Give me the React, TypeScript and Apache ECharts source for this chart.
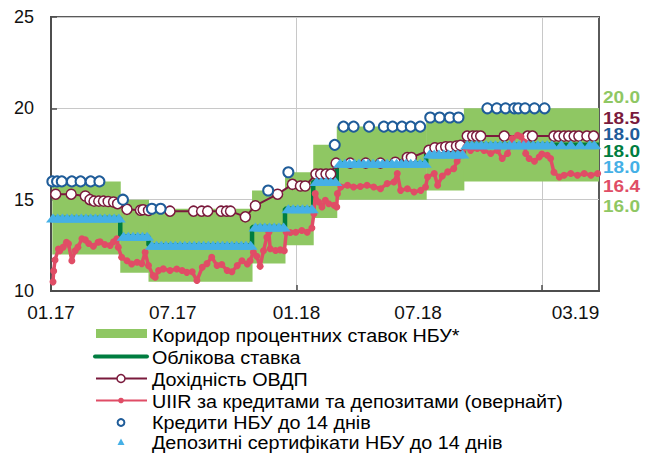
import React, { useEffect, useRef } from 'react';
import * as echarts from 'echarts';

const FONT = "'Liberation Sans', Arial, sans-serif";
const C_CORRIDOR = '#8FC763';
const C_RATE = '#007D40';
const C_OVDP = '#7A1A3C';
const C_UIIR = '#E04D66';
const C_CREDIT = '#1F5C99';
const C_DC = '#45B0E6';

// ---- Data ----
const corridorStart = ['2017-01-03', '2017-04-14', '2017-05-26', '2017-10-27', '2017-12-15', '2018-01-26', '2018-03-02', '2018-07-13', '2018-09-07'];
const corridorEnd = ['2017-04-14', '2017-05-26', '2017-10-27', '2017-12-15', '2018-01-26', '2018-03-02', '2018-07-13', '2018-09-07', '2019-03-27'];
const corridorLower = [12, 11, 10.5, 11.5, 12.5, 14, 15, 15.5, 16];
const corridorUpper = [16, 15, 14.5, 15.5, 16.5, 18, 19, 19.5, 20];

const rateDates = ['2017-01-03', '2017-04-14', '2017-05-26', '2017-10-27', '2017-12-15', '2018-01-26', '2018-03-02', '2018-07-13', '2018-09-07', '2019-03-27'];
const rateValues = [14, 13, 12.5, 13.5, 14.5, 16, 17, 17.5, 18, 18];

const ovdpDates = ['2017-01-08', '2017-01-31', '2017-02-21', '2017-02-28', '2017-03-06', '2017-03-13', '2017-03-20', '2017-03-27', '2017-04-04', '2017-04-10', '2017-04-24', '2017-05-14', '2017-05-18', '2017-05-26', '2017-06-27', '2017-08-01', '2017-08-13', '2017-08-22', '2017-09-11', '2017-09-19', '2017-09-25', '2017-10-17', '2017-11-01', '2017-12-04', '2017-12-26', '2018-01-07', '2018-01-14', '2018-01-30', '2018-02-06', '2018-02-14', '2018-02-21', '2018-03-01', '2018-03-22', '2018-04-14', '2018-05-06', '2018-05-28', '2018-06-15', '2018-06-21', '2018-07-17', '2018-07-26', '2018-08-04', '2018-08-11', '2018-08-18', '2018-08-27', '2018-09-02', '2018-09-12', '2018-09-20', '2018-09-26', '2018-10-02', '2018-11-06', '2018-12-11', '2018-12-18', '2019-01-19', '2019-01-26', '2019-02-03', '2019-02-10', '2019-02-18', '2019-02-25', '2019-03-09', '2019-03-19'];
const ovdpValues = [15.3, 15.3, 15.2, 15.0, 14.92, 14.92, 14.92, 14.9, 14.87, 14.78, 14.47, 14.42, 14.45, 14.41, 14.37, 14.37, 14.37, 14.37, 14.37, 14.37, 14.37, 14.06, 14.67, 15.3, 15.84, 15.75, 15.75, 16.4, 16.4, 16.4, 16.4, 17.0, 17.0, 17.0, 17.0, 17.05, 17.31, 17.31, 17.7, 17.84, 17.84, 17.9, 17.9, 17.94, 17.97, 18.48, 18.48, 18.48, 18.48, 18.48, 18.48, 18.48, 18.48, 18.48, 18.48, 18.48, 18.48, 18.48, 18.48, 18.48];

const uiirDates = ['2017-01-04', '2017-01-05', '2017-01-07', '2017-01-12', '2017-01-14', '2017-01-19', '2017-01-24', '2017-01-27', '2017-02-01', '2017-02-06', '2017-02-10', '2017-02-16', '2017-02-21', '2017-02-26', '2017-03-05', '2017-03-12', '2017-03-15', '2017-03-22', '2017-03-30', '2017-04-04', '2017-04-09', '2017-04-11', '2017-04-16', '2017-04-24', '2017-05-01', '2017-05-09', '2017-05-16', '2017-05-21', '2017-05-26', '2017-06-02', '2017-06-05', '2017-06-10', '2017-06-17', '2017-06-27', '2017-07-07', '2017-07-15', '2017-07-22', '2017-07-30', '2017-08-06', '2017-08-14', '2017-08-21', '2017-08-28', '2017-09-05', '2017-09-12', '2017-09-20', '2017-09-27', '2017-10-05', '2017-10-12', '2017-10-20', '2017-10-24', '2017-10-29', '2017-11-03', '2017-11-08', '2017-11-13', '2017-11-18', '2017-11-21', '2017-11-23', '2017-12-01', '2017-12-08', '2017-12-14', '2017-12-17', '2017-12-23', '2017-12-31', '2018-01-09', '2018-01-17', '2018-01-24', '2018-01-27', '2018-01-29', '2018-02-03', '2018-02-08', '2018-02-13', '2018-02-18', '2018-02-26', '2018-03-02', '2018-03-03', '2018-03-08', '2018-03-18', '2018-03-27', '2018-04-06', '2018-04-16', '2018-04-26', '2018-05-06', '2018-05-16', '2018-05-26', '2018-05-31', '2018-06-05', '2018-06-15', '2018-06-25', '2018-07-05', '2018-07-12', '2018-07-15', '2018-07-25', '2018-07-30', '2018-08-06', '2018-08-14', '2018-08-23', '2018-08-28', '2018-09-05', '2018-09-10', '2018-09-17', '2018-09-27', '2018-10-07', '2018-10-17', '2018-10-27', '2018-11-03', '2018-11-11', '2018-11-18', '2018-11-26', '2018-12-01', '2018-12-06', '2018-12-08', '2018-12-13', '2018-12-21', '2018-12-28', '2019-01-01', '2019-01-09', '2019-01-14', '2019-01-19', '2019-01-27', '2019-02-03', '2019-02-13', '2019-02-23', '2019-03-05', '2019-03-15', '2019-03-25'];
const uiirValues = [10.5, 11.1, 11.7, 12.3, 12.2, 12.4, 12.67, 12.58, 11.66, 12.2, 12.4, 12.86, 12.8, 12.6, 12.45, 12.67, 12.7, 12.55, 12.49, 12.7, 12.86, 12.4, 11.85, 11.66, 11.48, 11.57, 11.5, 12.12, 11.39, 10.84, 10.75, 11.12, 11.21, 11.12, 11.2, 11.12, 11.02, 11.05, 10.57, 11.3, 11.5, 11.85, 11.4, 11.45, 11.12, 11.05, 11.39, 11.66, 11.48, 11.66, 12.12, 11.9, 11.35, 12.2, 12.94, 13.22, 12.31, 12.22, 12.25, 12.2, 13.22, 13.2, 13.22, 13.31, 13.22, 13.45, 14.23, 15.33, 14.87, 14.6, 14.96, 14.78, 14.69, 14.6, 15.33, 15.69, 15.79, 15.69, 15.72, 15.79, 15.69, 15.6, 15.88, 15.97, 16.43, 15.51, 15.6, 15.42, 15.51, 15.69, 16.24, 16.43, 15.79, 16.3, 16.52, 16.7, 17.1, 17.5, 17.9, 17.7, 17.8, 17.7, 17.53, 17.7, 17.25, 17.53, 18.35, 18.53, 18.44, 18.16, 17.53, 17.25, 17.1, 17.34, 17.5, 17.43, 17.25, 16.5, 16.24, 16.34, 16.43, 16.34, 16.43, 16.34, 16.43];

const creditDates = ['2017-01-03', '2017-01-10', '2017-01-17', '2017-02-01', '2017-02-14', '2017-03-01', '2017-03-14', '2017-04-18', '2017-05-31', '2017-06-13', '2017-11-20', '2017-12-20', '2018-02-27', '2018-03-12', '2018-03-27', '2018-04-19', '2018-05-11', '2018-05-24', '2018-06-07', '2018-06-20', '2018-07-04', '2018-07-19', '2018-08-02', '2018-08-17', '2018-08-30', '2018-10-12', '2018-10-26', '2018-11-08', '2018-11-21', '2018-11-27', '2018-12-07', '2018-12-21', '2019-01-05'];
const creditValues = [16, 16, 16, 16, 16, 16, 16, 15, 14.5, 14.5, 15.5, 16.5, 18, 19, 19, 19, 19, 19, 19, 19, 19, 19.5, 19.5, 19.5, 19.5, 20, 20, 20, 20, 20, 20, 20, 20];

// weekly placements of deposit certificates starting on dcStart (null = no placement that week)
const dcStart = '2017-01-04';
const dcValues = [
  14, 14, 14, 14, 14, 14, 14, 14, 14, 14, 14, 14, 14, 14, 14,
  13, 13, 13, 13, 13, 13,
  12.5, 12.5, 12.5, 12.5, 12.5, 12.5, 12.5, 12.5, 12.5, 12.5, 12.5, 12.5, 12.5, 12.5, 12.5, 12.5, 12.5, 12.5, 12.5, 12.5, 12.5, 12.5,
  13.5, 13.5, 13.5, 13.5, 13.5, 13.5, 13.5,
  14.5, 14.5, 14.5, 14.5, 14.5, 14.5,
  16, 16, 16, 16, 16,
  17, 17, 17, 17, 17, 17, 17, 17, 17, 17, 17, 17, 17, 17, 17, 17, 17, 17, 17,
  17.5, 17.5, 17.5, 17.5, 17.5, 17.5, 17.5, 17.5,
  18, 18, 18, 18, 18, 18, 18, 18, 18, 18, 18, 18, 18, 18, 18, 18, 18, 18,
  18, null, 18, null, 18, null, 18, null, 18, 18,
];

const xLabelDates = ['2017-01-01', '2017-07-01', '2018-01-01', '2018-07-01', '2019-02-20'];
const xLabelTexts = ['01.17', '07.17', '01.18', '07.18', '03.19'];
const xGridDates = ['2018-01-01', '2019-01-01'];
const xMin = '2017-01-01';
const xMax = '2019-03-27';

const endLabelTexts = ['20.0', '18.5', '18.0', '18.0', '18.0', '16.4', '16.0'];
const endLabelColors = [C_CORRIDOR, C_OVDP, C_CREDIT, C_RATE, C_DC, C_UIIR, C_CORRIDOR];
const endLabelY = [97.5, 118.5, 134, 151, 167.5, 186.5, 206];

const legendNames = [
  'Коридор процентних ставок НБУ*',
  'Облікова ставка',
  'Дохідність ОВДП',
  'UIIR за кредитами та депозитами (овернайт)',
  'Кредити НБУ до 14 днів',
  'Депозитні сертифікати НБУ до 14 днів',
];

const ts = (s: string) => {
  const [y, m, d] = s.split('-').map(Number);
  return Date.UTC(y, m - 1, d);
};
const DAY = 86400000;

function buildOption() {
  const labelTs = xLabelDates.map(ts);
  const corridorData = corridorStart.map((s, i) => [ts(s), ts(corridorEnd[i]), corridorLower[i], corridorUpper[i]]);
  const dcT0 = ts(dcStart);
  const dcData: any[] = [];
  dcValues.forEach((v, i) => {
    if (v != null) dcData.push([dcT0 + i * 7 * DAY, v]);
  });

  const rowY = [336, 357.5, 380, 401.5, 422.5, 442.5];
  const legendGraphics: any[] = [
    { type: 'rect', shape: { x: 96, y: 329, width: 51, height: 9 }, style: { fill: C_CORRIDOR } },
    { type: 'line', shape: { x1: 95, y1: 356.5, x2: 147, y2: 356.5 }, style: { stroke: C_RATE, lineWidth: 4, lineCap: 'round' } },
    { type: 'line', shape: { x1: 96, y1: 378.5, x2: 147, y2: 378.5 }, style: { stroke: C_OVDP, lineWidth: 2 } },
    { type: 'circle', shape: { cx: 121, cy: 378.5, r: 4 }, style: { fill: '#fff', stroke: C_OVDP, lineWidth: 1.5 } },
    { type: 'line', shape: { x1: 96, y1: 400.5, x2: 147, y2: 400.5 }, style: { stroke: C_UIIR, lineWidth: 2 } },
    { type: 'circle', shape: { cx: 121, cy: 400.5, r: 2.8 }, style: { fill: C_UIIR } },
    { type: 'circle', shape: { cx: 121, cy: 422.5, r: 3.4 }, style: { fill: '#fff', stroke: C_CREDIT, lineWidth: 2 } },
    { type: 'polygon', shape: { points: [[121, 438.5], [117.5, 445], [124.5, 445]] }, style: { fill: C_DC } },
  ];
  legendNames.forEach((n, i) => {
    legendGraphics.push({
      type: 'text', x: 152, y: rowY[i], scaleX: 1.08,
      style: { text: n, fill: '#000', fontSize: 18.3, lineHeight: 15, fontFamily: FONT, verticalAlign: 'middle', align: 'left' },
    });
  });
  const endGraphics = endLabelTexts.map((t, i) => ({
    type: 'text', x: 603, y: endLabelY[i], scaleX: 1.12,
    style: { text: t, fill: endLabelColors[i], fontSize: 17, lineHeight: 15, fontWeight: 'bold', fontFamily: FONT, verticalAlign: 'middle', align: 'left' },
  }));

  return {
    animation: false,
    backgroundColor: '#fff',
    grid: { left: 51, top: 17, width: 548, height: 274, show: true, borderColor: '#5a5a5a', borderWidth: 2, backgroundColor: 'transparent' },
    xAxis: {
      type: 'value',
      min: ts(xMin),
      max: ts(xMax),
      axisLine: { show: true, onZero: false, lineStyle: { color: '#4d4d4d', width: 2 } },
      axisTick: { show: true, inside: true, length: 6, customValues: xGridDates.map(ts), lineStyle: { color: '#4d4d4d', width: 1.5 } },
      splitLine: { show: true, lineStyle: { color: '#c8c8c8', width: 1 } },
      axisLabel: {
        customValues: labelTs,
        formatter: (v: number) => {
          const i = labelTs.indexOf(v);
          return i >= 0 ? xLabelTexts[i] : '';
        },
        fontSize: 19, color: '#111', margin: 12, fontFamily: FONT,
      },
    },
    yAxis: {
      type: 'value', min: 10, max: 25, interval: 5,
      axisLine: { show: true, lineStyle: { color: '#4d4d4d', width: 2 } },
      axisTick: { show: true, inside: true, length: 6, lineStyle: { color: '#4d4d4d', width: 1.5 } },
      axisLabel: { fontSize: 18, color: '#111', margin: 17, fontFamily: FONT },
      splitLine: { show: true, lineStyle: { color: '#c8c8c8', width: 1 } },
    },
    series: [
      {
        name: legendNames[0],
        type: 'custom',
        z: 1,
        clip: true,
        encode: { x: [0, 1], y: [2, 3] },
        data: corridorData,
        renderItem: (_p: any, api: any) => {
          const p1 = api.coord([api.value(0), api.value(3)]);
          const p2 = api.coord([api.value(1), api.value(2)]);
          return {
            type: 'rect',
            shape: { x: p1[0], y: p1[1], width: p2[0] - p1[0] + 0.5, height: p2[1] - p1[1] },
            style: { fill: C_CORRIDOR },
          };
        },
      },
      {
        name: legendNames[1],
        type: 'line',
        z: 2,
        step: 'end',
        symbol: 'none',
        data: rateDates.map((d, i) => [ts(d), rateValues[i]]),
        lineStyle: { color: C_RATE, width: 4.5 },
        itemStyle: { color: C_RATE },
      },
      {
        name: legendNames[2],
        type: 'line',
        z: 3,
        symbol: 'circle',
        symbolSize: 10,
        showAllSymbol: true,
        data: ovdpDates.map((d, i) => [ts(d), ovdpValues[i]]),
        lineStyle: { color: C_OVDP, width: 2 },
        itemStyle: { color: '#fff', borderColor: C_OVDP, borderWidth: 1.5 },
      },
      {
        name: legendNames[3],
        type: 'line',
        z: 4,
        symbol: 'circle',
        symbolSize: 7,
        showAllSymbol: true,
        data: uiirDates.map((d, i) => [ts(d), uiirValues[i]]),
        lineStyle: { color: C_UIIR, width: 3.5 },
        itemStyle: { color: C_UIIR, borderWidth: 0 },
      },
      {
        name: legendNames[4],
        type: 'scatter',
        z: 5,
        symbol: 'circle',
        symbolSize: 10,
        data: creditDates.map((d, i) => [ts(d), creditValues[i]]),
        itemStyle: { color: '#fff', borderColor: C_CREDIT, borderWidth: 2, opacity: 1 },
      },
      {
        name: legendNames[5],
        type: 'scatter',
        z: 6,
        symbol: 'triangle',
        symbolSize: [14, 9],
        data: dcData,
        itemStyle: { color: C_DC, opacity: 1 },
      },
    ],
    graphic: [...legendGraphics, ...endGraphics],
  };
}

export default function App() {
  const ref = useRef<HTMLDivElement>(null);
  useEffect(() => {
    if (!ref.current) return;
    const chart = echarts.init(ref.current, null, { renderer: 'svg' });
    chart.setOption(buildOption() as any);
    return () => chart.dispose();
  }, []);
  return <div ref={ref} style={{ position: 'fixed', left: 0, top: 0, width: 647, height: 453, background: '#fff' }} />;
}
